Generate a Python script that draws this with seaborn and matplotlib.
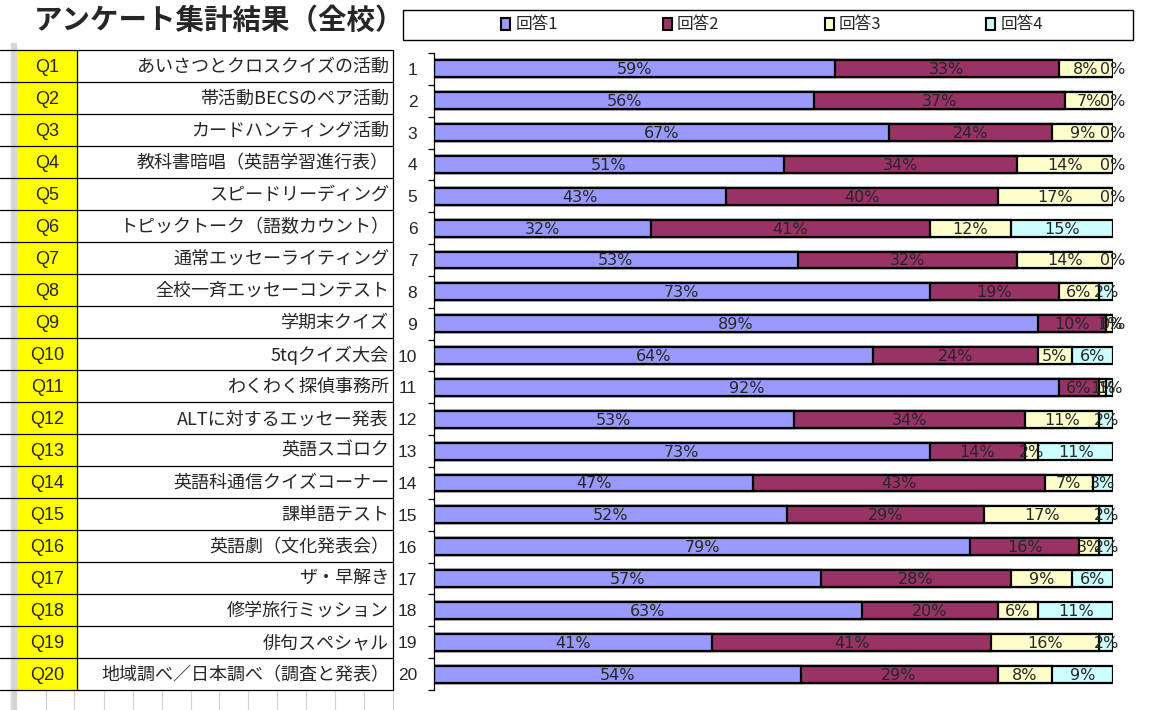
import numpy as np
import pandas as pd
import matplotlib
matplotlib.use('Agg')
import matplotlib.pyplot as plt
from matplotlib.patches import Rectangle, Patch
import seaborn as sns

# survey results, percent per answer (row order = Q1..Q20)
questions = ['Q%d' % i for i in range(1, 21)]
activities = ['あいさつとクロスクイズの活動', '帯活動BECSのペア活動', 'カードハンティング活動',
              '教科書暗唱（英語学習進行表）', 'スピードリーディング', 'トピックトーク（語数カウント）',
              '通常エッセーライティング', '全校一斉エッセーコンテスト', '学期末クイズ', '5tqクイズ大会',
              'わくわく探偵事務所', 'ALTに対するエッセー発表', '英語スゴロク', '英語科通信クイズコーナー',
              '課単語テスト', '英語劇（文化発表会）', 'ザ・早解き', '修学旅行ミッション',
              '俳句スペシャル', '地域調べ／日本調べ（調査と発表）']
answer1 = [59, 56, 67, 51, 43, 32, 53, 73, 89, 64, 92, 53, 73, 47, 52, 79, 57, 63, 41, 54]
answer2 = [33, 37, 24, 34, 40, 41, 32, 19, 10, 24, 6, 34, 14, 43, 29, 16, 28, 20, 41, 29]
answer3 = [8, 7, 9, 14, 17, 12, 14, 6, 1, 5, 1, 11, 2, 7, 17, 3, 9, 6, 16, 8]
answer4 = [0, 0, 0, 0, 0, 15, 0, 2, 0, 6, 1, 2, 11, 3, 2, 2, 6, 11, 2, 9]
answer_names = ['回答1', '回答2', '回答3', '回答4']
colors = ['#9999FF', '#993366', '#FFFFCC', '#CCFFFF']

sns.set_style('white')
plt.rcParams['font.family'] = ['Noto Sans CJK JP', 'DejaVu Sans']

W, H = 1166, 710
fig = plt.figure(figsize=(W / 100, H / 100), dpi=100)

# sheet-like table on the left, pixel coordinates
tab = fig.add_axes([0, 0, 1, 1])
tab.set_xlim(0, W)
tab.set_ylim(H, 0)
tab.axis('off')

row_top, row_h = 50, 32
n = len(questions)
tab.add_patch(Rectangle((16, row_top), 61, row_h * n, color='#FFFF00', zorder=1))
tab.add_patch(Rectangle((11, 43), 5, H - 43, color='#D6D6D6', zorder=1))
for k in range(n + 1):
    y = row_top + row_h * k
    tab.plot([0, 393], [y, y], color='black', lw=0.9, zorder=2)
for x in [77, 393]:
    tab.plot([x, x], [row_top, row_top + row_h * n], color='black', lw=0.9, zorder=2)
for x in [15, 46, 74, 104, 133, 162, 191, 219, 248, 277, 306, 335, 364, 393]:
    tab.plot([x, x], [row_top + row_h * n, H], color='#D0D0D0', lw=0.8, zorder=1)

for i, (q, a) in enumerate(zip(questions, activities)):
    yc = row_top + row_h * i + row_h / 2 + 1
    tab.text(47, yc, q, ha='center', va='center', fontsize=13,
             family=['Liberation Sans', 'DejaVu Sans'])
    tab.text(389, yc, a, ha='right', va='center', fontsize=13)

tab.text(34, 21, 'アンケート集計結果（全校）', ha='left', va='center',
         fontsize=20.5, fontweight='bold')
tab.add_patch(Rectangle((403, 10), 730, 30, facecolor='none', edgecolor='black', lw=1))

# stacked 100% bars
vals = np.array([answer1, answer2, answer3, answer4], dtype=float).T
shares = vals / vals.sum(axis=1, keepdims=True) * 100
cum = np.cumsum(shares, axis=1)
rows = [str(i) for i in range(1, n + 1)]
df = pd.DataFrame(cum, columns=answer_names)
df['row'] = rows

ax = fig.add_axes([434 / W, 1 - 690 / H, (1113 - 434) / W, (690 - 53) / H])
for k in range(3, -1, -1):
    sns.barplot(data=df, x=answer_names[k], y='row', orient='y', color=colors[k],
                saturation=1, edgecolor='black', linewidth=1.6, width=0.53,
                errorbar=None, ax=ax, zorder=2)

for i in range(n):
    left = 0
    for k in range(4):
        ax.text(left + shares[i, k] / 2, i + 0.03, '%d%%' % vals[i, k], ha='center',
                va='center', fontsize=11.5, family=['Liberation Sans Narrow', 'DejaVu Sans'],
                zorder=3, clip_on=False)
        left += shares[i, k]

ax.set_xlim(0, 100)
ax.set_ylim(n - 0.5, -0.5)
ax.set_xlabel('')
ax.set_ylabel('')
ax.set_xticks([])
ax.set_yticks(range(n))
ax.set_yticklabels(rows, family=['Liberation Sans', 'DejaVu Sans'], fontsize=12.5)
ax.set_yticks(np.arange(-0.5, n, 1), minor=True)
ax.tick_params(axis='y', which='major', length=0, pad=12)
ax.tick_params(axis='y', which='minor', length=4, width=0.9, color='black', direction='out', left=True)
for s in ['top', 'right', 'bottom']:
    ax.spines[s].set_visible(False)
ax.spines['left'].set_color('black')
ax.spines['left'].set_linewidth(0.9)
ax.patch.set_alpha(0)

handles = [Patch(facecolor=c, edgecolor='black', linewidth=1.5) for c in colors]
fig.legend(handles, answer_names, loc='center', bbox_to_anchor=(772 / W, 1 - 25 / H),
           ncol=4, frameon=False, fontsize=12, handlelength=0.55, handleheight=0.7,
           handletextpad=0.3, columnspacing=6.3)

fig.savefig('out.png', dpi=100)
